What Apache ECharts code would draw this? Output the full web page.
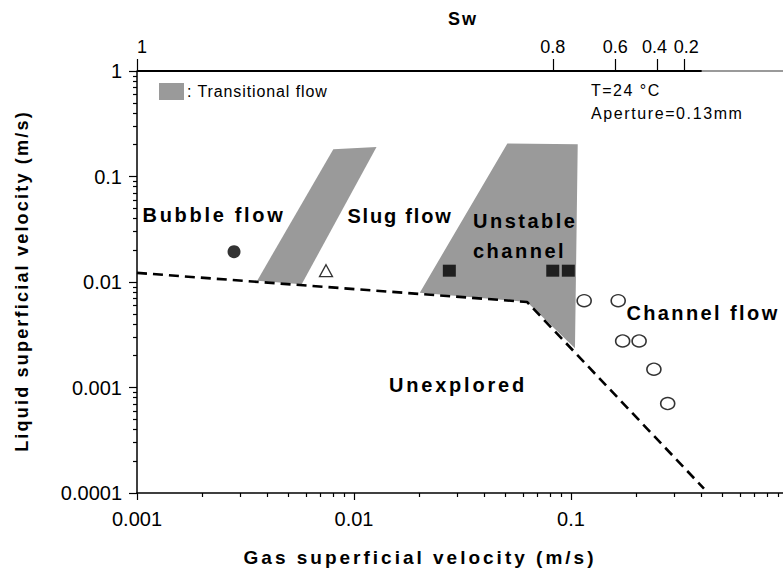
<!DOCTYPE html>
<html>
<head>
<meta charset="utf-8">
<script src="https://cdn.jsdelivr.net/npm/echarts@6/dist/echarts.min.js"></script>
<style>
  html, body { margin: 0; padding: 0; background: #fff; }
  #c { width: 783px; height: 571px; }
</style>
</head>
<body>
<div id="c"></div>
<script>
// Observed flow regimes: [gas superficial velocity, liquid superficial velocity] (m/s)
const bubbleFlow = [[0.0028, 0.0194]];
const slugFlow = [[0.00743, 0.0128]];
const unstableChannel = [[0.0275, 0.0128], [0.0824, 0.0128], [0.0972, 0.0128]];
const channelFlow = [
  [0.115, 0.00665], [0.165, 0.00665],
  [0.173, 0.00276], [0.206, 0.00276],
  [0.241, 0.00149], [0.279, 0.000705]
];

// Limit of the explored conditions (dashed)
const boundary = [[0.001, 0.0122], [0.0627, 0.00647], [0.41, 0.00011]];

// Transitional-flow zones
const bubbleSlugZone = [[0.00358, 0.0103], [0.00803, 0.1815], [0.0127, 0.1908], [0.00574, 0.00951]];
const unstableZone = [[0.0201, 0.00792], [0.0509, 0.2056], [0.1074, 0.2024], [0.1043, 0.00236], [0.0627, 0.00647]];

// Water-saturation scale along the top edge, and where it ends
const swLabels = ['1', '0.8', '0.6', '0.4', '0.2'];
const swAtGas = [0.001, 0.0824, 0.160, 0.249, 0.331];
const swLineEnd = [[0.001, 1], [0.40, 1]];
const frameRest = [[0.40, 1], [1, 1]];

// Tick marks
const xTickValues = [0.001, 0.01, 0.1, 1];
const xTickLabels = ['0.001', '0.01', '0.1', '1'];
const yTickValues = [0.0001, 0.001, 0.01, 0.1, 1];
const yTickLabels = ['0.0001', '0.001', '0.01', '0.1', '1'];
const minorSteps = [2, 3, 4, 5, 6, 7, 8, 9];

const FONT = '"Liberation Sans", Arial, sans-serif';
const lg = Math.log10;

function minorPositions(majors) {
  const out = [];
  for (let i = 0; i < majors.length - 1; i++) {
    minorSteps.forEach(k => out.push(lg(k * majors[i])));
  }
  return out;
}
function labelFor(positions, labels) {
  return v => {
    const i = positions.findIndex(p => Math.abs(p - v) < 1e-6);
    return i >= 0 ? labels[i] : '';
  };
}

const xMajorPos = xTickValues.map(lg);
const yMajorPos = yTickValues.map(lg);
const swPos = swAtGas.map(lg);

// the two closest Sw labels are nudged apart so they stay readable
const swLabelText = labelFor(swPos, swLabels);
function swFormatter(v) {
  const t = swLabelText(v);
  if (t === swLabels[3]) return '{l|' + t + '}';
  if (t === swLabels[4]) return '{r|' + t + '}';
  return t;
}

const axisLine = { show: true, onZero: false, lineStyle: { color: '#000', width: 1.5 } };
const tickStyle = { color: '#000', width: 1.2 };
const labelStyle = { color: '#000', fontSize: 20, fontFamily: FONT };

// Letter spacing for selected texts (SVG renderer)
const spacing = {
  'Sw': 2,
  'Gas superficial velocity (m/s)': 3,
  'Liquid superficial velocity (m/s)': 2.2,
  'Bubble flow': 2.7,
  'Slug flow': 1.8,
  'Unstable': 2.5,
  'channel': 2.5,
  'Channel flow': 2.4,
  'Unexplored': 2.8,
  ': Transitional flow': 0.9,
  'T=24 °C': 1.5,
  'Aperture=0.13mm': 1.6
};

function zone(points) {
  return {
    type: 'custom',
    xAxisIndex: 0, yAxisIndex: 0,
    data: points,
    clip: false,
    silent: true,
    z: 1,
    renderItem: (params, api) => {
      if (params.dataIndex !== 0) return null;
      return {
        type: 'polygon',
        shape: { points: points.map(p => api.coord(p)) },
        style: { fill: '#9a9a9a' }
      };
    }
  };
}

function boldText(text, x, y, size, align) {
  return {
    type: 'text', x, y, z: 100, silent: true,
    style: {
      text, fill: '#000', font: 'bold ' + size + 'px ' + FONT,
      textAlign: align || 'center', textVerticalAlign: 'middle'
    }
  };
}
function plainText(text, x, y, size) {
  return {
    type: 'text', x, y, z: 100, silent: true,
    style: {
      text, fill: '#000', font: size + 'px ' + FONT,
      textAlign: 'left', textVerticalAlign: 'middle'
    }
  };
}

const chart = echarts.init(document.getElementById('c'), null, { renderer: 'svg' });

const option = {
  animation: false,
  backgroundColor: '#fff',
  textStyle: { fontFamily: FONT },
  grid: { left: 137, top: 71, width: 651, height: 422, outerBoundsMode: 'none', containLabel: false },
  xAxis: [
    { type: 'log', min: 0.001, max: 1, show: false },
    {
      type: 'value', min: -3, max: 0, position: 'bottom',
      axisLine, splitLine: { show: false },
      axisTick: { customValues: xMajorPos, length: 7, lineStyle: tickStyle },
      axisLabel: Object.assign({ customValues: xMajorPos, margin: 16, formatter: labelFor(xMajorPos, xTickLabels) }, labelStyle)
    },
    {
      type: 'value', min: -3, max: 0, position: 'bottom',
      axisLine: { show: false, onZero: false }, splitLine: { show: false },
      axisTick: { customValues: minorPositions(xTickValues), length: 4, lineStyle: tickStyle },
      axisLabel: { show: false }
    },
    {
      type: 'value', min: -3, max: 0, position: 'top',
      axisLine: { show: true, onZero: false, lineStyle: { color: '#9a9a9a', width: 2 } },
      splitLine: { show: false },
      axisTick: { customValues: swPos, length: 12, lineStyle: tickStyle },
      axisLabel: Object.assign(
        { customValues: swPos, margin: 15, alignMinLabel: 'left', formatter: swFormatter },
        labelStyle,
        {
          fontSize: 18,
          rich: {
            l: { fontSize: 18, fontFamily: FONT, color: '#000', padding: [0, 5, 0, 0] },
            r: { fontSize: 18, fontFamily: FONT, color: '#000', padding: [0, 0, 0, 5] }
          }
        })
    }
  ],
  yAxis: [
    { type: 'log', min: 0.0001, max: 1, show: false },
    {
      type: 'value', min: -4, max: 0, position: 'left',
      axisLine, splitLine: { show: false },
      axisTick: { customValues: yMajorPos, length: 8, lineStyle: tickStyle },
      axisLabel: Object.assign({ customValues: yMajorPos, margin: 15, formatter: labelFor(yMajorPos, yTickLabels) }, labelStyle)
    },
    {
      type: 'value', min: -4, max: 0, position: 'left',
      axisLine: { show: false, onZero: false }, splitLine: { show: false },
      axisTick: { customValues: minorPositions(yTickValues), length: 4, lineStyle: tickStyle },
      axisLabel: { show: false }
    }
  ],
  series: [
    zone(bubbleSlugZone),
    zone(unstableZone),
    {
      type: 'line', xAxisIndex: 0, yAxisIndex: 0, data: frameRest,
      symbol: 'none', clip: false, silent: true,
      lineStyle: { color: '#9a9a9a', width: 2 }
    },
    {
      type: 'line', xAxisIndex: 0, yAxisIndex: 0, data: swLineEnd,
      symbol: 'none', clip: false, silent: true,
      lineStyle: { color: '#000', width: 2 }
    },
    {
      type: 'line', xAxisIndex: 0, yAxisIndex: 0, data: boundary,
      symbol: 'none', silent: true,
      lineStyle: { color: '#000', width: 2.6, type: [10, 6] }
    },
    {
      type: 'scatter', xAxisIndex: 0, yAxisIndex: 0, data: bubbleFlow,
      symbol: 'circle', symbolSize: 13, silent: true,
      itemStyle: { color: '#000' }
    },
    {
      type: 'scatter', xAxisIndex: 0, yAxisIndex: 0, data: slugFlow,
      symbol: 'triangle', symbolSize: [13, 12], silent: true,
      itemStyle: { color: '#fff', borderColor: '#000', borderWidth: 1.3 }
    },
    {
      type: 'scatter', xAxisIndex: 0, yAxisIndex: 0, data: unstableChannel,
      symbol: 'rect', symbolSize: [13, 12], silent: true,
      itemStyle: { color: '#000' }
    },
    {
      type: 'scatter', xAxisIndex: 0, yAxisIndex: 0, data: channelFlow,
      symbol: 'circle', symbolSize: [14, 12], silent: true,
      itemStyle: { color: '#fff', borderColor: '#000', borderWidth: 1.5 }
    }
  ],
  graphic: [
    boldText('Sw', 463, 19, 18),
    boldText('Gas superficial velocity (m/s)', 420, 557, 19),
    Object.assign(boldText('Liquid superficial velocity (m/s)', 22, 281, 18), { rotation: Math.PI / 2 }),
    boldText('Bubble flow', 214, 215, 20),
    boldText('Slug flow', 400, 216, 20),
    boldText('Unstable', 473, 221, 20, 'left'),
    boldText('channel', 473, 251, 20, 'left'),
    boldText('Channel flow', 703, 313, 20),
    boldText('Unexplored', 458, 385, 20),
    { type: 'rect', x: 159, y: 83, z: 100, silent: true, shape: { width: 25, height: 17 }, style: { fill: '#9a9a9a' } },
    plainText(': Transitional flow', 187, 91, 16),
    plainText('T=24 °C', 591, 90, 16),
    plainText('Aperture=0.13mm', 591, 113, 16)
  ]
};

chart.setOption(option);

function applySpacing() {
  document.querySelectorAll('#c svg text').forEach(t => {
    const s = spacing[t.textContent];
    if (s) t.style.letterSpacing = s + 'px';
  });
}
chart.on('rendered', applySpacing);
chart.on('finished', applySpacing);
applySpacing();
setTimeout(applySpacing, 0);
</script>
</body>
</html>
